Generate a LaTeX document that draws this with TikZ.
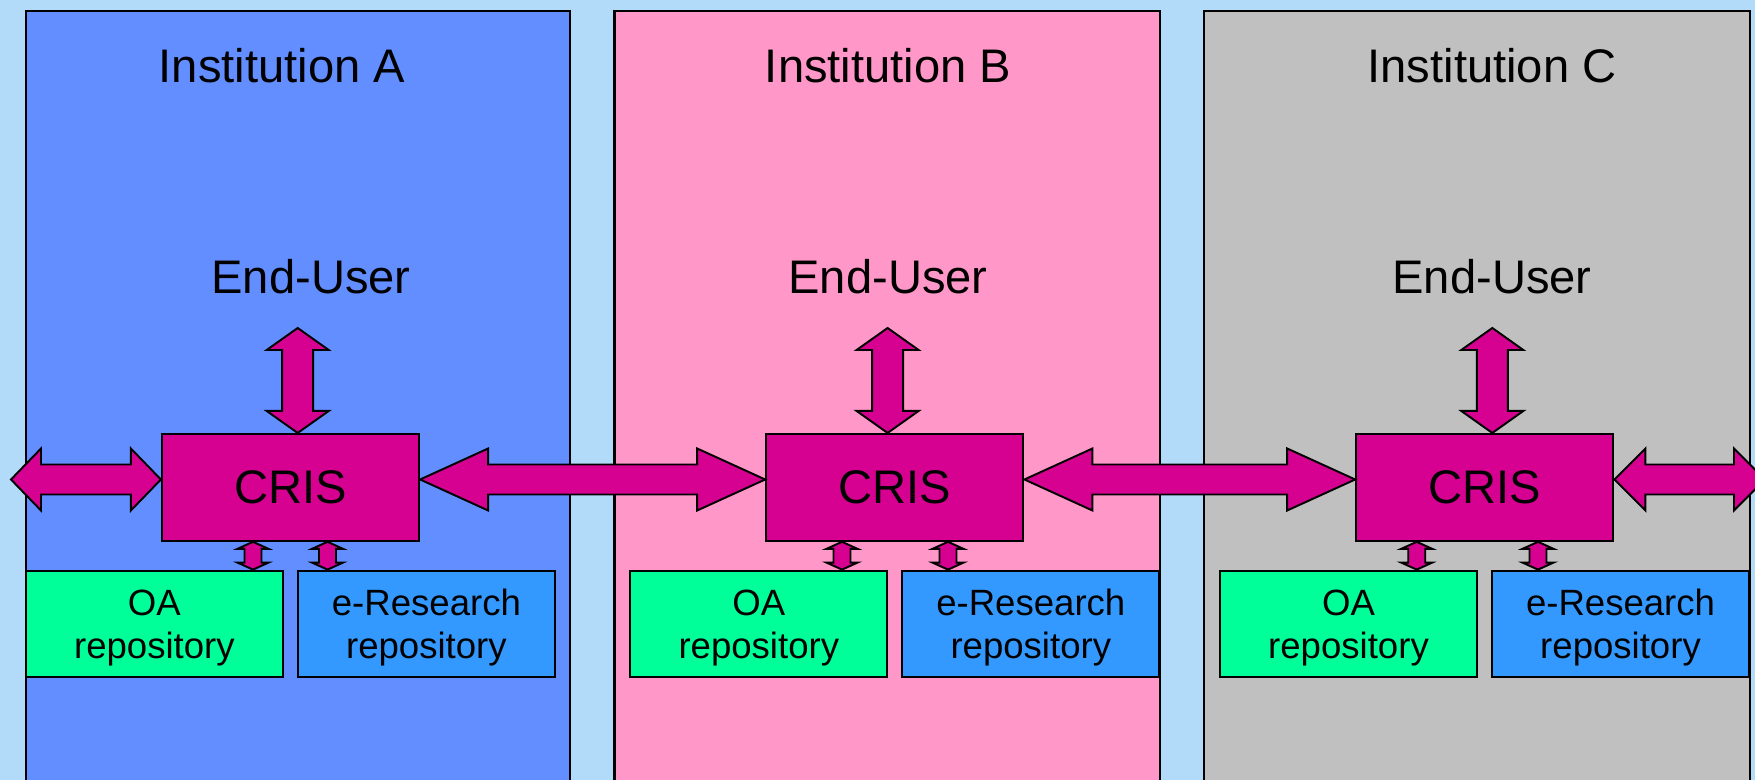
\documentclass[tikz,border=0pt]{standalone}
\usepackage{fontspec}
\setmainfont{Liberation Sans}
\usepackage{tikz}
\usetikzlibrary{calc}
\usepackage{xcolor}
\definecolor{skyblue}{RGB}{178,219,250}
\definecolor{instA}{RGB}{99,142,255}
\definecolor{instB}{RGB}{255,151,200}
\definecolor{instC}{RGB}{192,192,192}
\definecolor{crismag}{RGB}{214,0,145}
\definecolor{oagreen}{RGB}{0,255,153}
\definecolor{erblue}{RGB}{51,153,255}

% double block arrows: from, to, head length, head half width, shaft half width
\newcommand{\fatharrow}[5]{%
  \draw[fatarrow] (#1) -- ++(#3,-#4) -- ++(0,#4-#5) -- ($(#2)+(-#3,-#5)$)
    -- ++(0,-#4+#5) -- (#2) -- ++(-#3,#4) -- ++(0,-#4+#5)
    -- ($(#1)+(#3,#5)$) -- ++(0,#4-#5) -- cycle;}
\newcommand{\fatvarrow}[5]{%
  \draw[fatarrow] (#1) -- ++(#4,#3) -- ++(-#4+#5,0) -- ($(#2)+(#5,-#3)$)
    -- ++(#4-#5,0) -- (#2) -- ++(-#4,-#3) -- ++(#4-#5,0)
    -- ($(#1)+(-#5,#3)$) -- ++(-#4+#5,0) -- cycle;}

\tikzset{
  panel/.style={draw=black, line width=0.6pt},
  bigtext/.style={font=\fontsize{13.4}{16}\selectfont, anchor=base},
  crisbox/.style={draw=black, fill=crismag, line width=0.6pt, inner sep=0pt,
    minimum width=2.57cm, minimum height=1.067cm,
    font=\fontsize{13.4}{16}\selectfont},
  repobox/.style={draw=black, line width=0.6pt, inner sep=0pt, align=center,
    minimum width=2.57cm, minimum height=1.06cm, text height=0.77cm,
    font=\fontsize{10.4}{12.2}\selectfont},
  fatarrow/.style={draw=black, fill=crismag, line width=0.55pt, line join=miter}
}

\begin{document}
\begin{tikzpicture}[x=0.01cm, y=-0.01cm]
    \useasboundingbox (0,0) rectangle (1755,780);
    \fill[skyblue] (0,0) rectangle (1755,780);

    % --- Institutions ---
    \filldraw[panel, fill=instA] (25.7,11) rectangle (569.7,800);
    \filldraw[panel, fill=instB] (614.5,11) rectangle (1159.6,800);
    \filldraw[panel, fill=instC] (1204.4,11) rectangle (1750,800);

    \node[bigtext] (titleA) at (282,83) {Institution A};
    \node[bigtext] (titleB) at (888,83) {Institution B};
    \node[bigtext] (titleC) at (1492,83) {Institution C};

    \node[bigtext] (userA) at (311,294) {End-User};
    \node[bigtext] (userB) at (888,294) {End-User};
    \node[bigtext] (userC) at (1492,294) {End-User};

    % --- CRIS ---
    \node[crisbox] (crisA) at (290.5,487.4) {CRIS};
    \node[crisbox] (crisB) at (894.8,487.4) {CRIS};
    \node[crisbox] (crisC) at (1484.8,487.4) {CRIS};

    % --- Repositories ---
    \node[repobox, fill=oagreen] (oaA) at (154.4,623.7) {OA\\repository};
    \node[repobox, fill=erblue]  (erA) at (426.4,623.7) {e-Research\\repository};
    \node[repobox, fill=oagreen] (oaB) at (758.8,623.7) {OA\\repository};
    \node[repobox, fill=erblue]  (erB) at (1030.8,623.7) {e-Research\\repository};
    \node[repobox, fill=oagreen] (oaC) at (1348.5,623.7) {OA\\repository};
    \node[repobox, fill=erblue]  (erC) at (1620.5,623.7) {e-Research\\repository};

    % --- End-User <-> CRIS ---
    \coordinate (topA) at (297.7,328);
    \coordinate (topB) at (887.6,328);
    \coordinate (topC) at (1492.3,328);
    \fatvarrow{topA}{topA |- crisA.north}{22}{31}{15.5}
    \fatvarrow{topB}{topB |- crisB.north}{22}{31}{15.5}
    \fatvarrow{topC}{topC |- crisC.north}{22}{31}{15.5}

    % --- CRIS <-> CRIS ---
    \coordinate (outW) at (11,479.5);
    \coordinate (outE) at (1765,479.5);
    \fatharrow{outW}{crisA.west |- outW}{30}{31}{15}
    \fatharrow{crisA.east |- outW}{crisB.west |- outW}{68}{31}{15}
    \fatharrow{crisB.east |- outW}{crisC.west |- outW}{68}{31}{15}
    \fatharrow{crisC.east |- outW}{outE}{31}{31}{15}

    % --- CRIS <-> repositories ---
    \coordinate (sA1) at (253,0);
    \coordinate (sA2) at (327.5,0);
    \coordinate (sB1) at (842,0);
    \coordinate (sB2) at (948,0);
    \coordinate (sC1) at (1416.7,0);
    \coordinate (sC2) at (1538,0);
    \fatvarrow{sA1 |- crisA.south}{sA1 |- oaA.north}{7}{15.5}{8.5}
    \fatvarrow{sA2 |- crisA.south}{sA2 |- erA.north}{7}{15.5}{8.5}
    \fatvarrow{sB1 |- crisB.south}{sB1 |- oaB.north}{7}{15.5}{8.5}
    \fatvarrow{sB2 |- crisB.south}{sB2 |- erB.north}{7}{15.5}{8.5}
    \fatvarrow{sC1 |- crisC.south}{sC1 |- oaC.north}{7}{15.5}{8.5}
    \fatvarrow{sC2 |- crisC.south}{sC2 |- erC.north}{7}{15.5}{8.5}
\end{tikzpicture}
\end{document}
